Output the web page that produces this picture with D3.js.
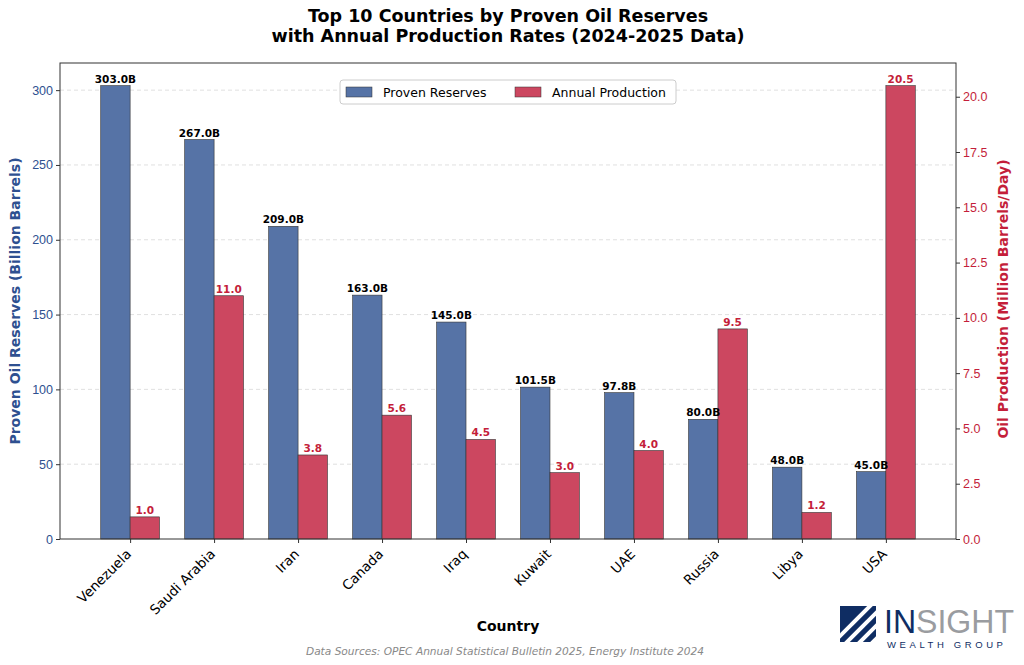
<!DOCTYPE html>
<html>
<head>
<meta charset="utf-8">
<script src="https://cdn.jsdelivr.net/npm/d3@7"></script>
<style>
  body { margin: 0; background: #fff; }
  svg { font-family: "DejaVu Sans", sans-serif; }
</style>
</head>
<body>
<div id="chart"></div>
<script>
const countries = ['Venezuela', 'Saudi Arabia', 'Iran', 'Canada', 'Iraq', 'Kuwait', 'UAE', 'Russia', 'Libya', 'USA']
const reserves = [303.0, 267.0, 209.0, 163.0, 145.0, 101.5, 97.8, 80.0, 48.0, 45.0]
const production = [1.0, 11.0, 3.8, 5.6, 4.5, 3.0, 4.0, 9.5, 1.2, 20.5]
const leftTicks = [0, 50, 100, 150, 200, 250, 300]
const rightTicks = [0, 2.5, 5, 7.5, 10, 12.5, 15, 17.5, 20]

const W = 1024, H = 665
const MARGIN = { TOP: 63, BOTTOM: 126, LEFT: 60, RIGHT: 68 }
const WIDTH = W - MARGIN.LEFT - MARGIN.RIGHT
const HEIGHT = H - MARGIN.TOP - MARGIN.BOTTOM
const BLUE = '#5673a6', RED = '#cc4760'
const BLUE_TXT = '#2e5090', RED_TXT = '#c41e3a'
const BW = 0.35

const svg = d3.select('#chart').append('svg')
  .attr('width', W).attr('height', H)

const g = svg.append('g')
  .attr('transform', `translate(${MARGIN.LEFT}, ${MARGIN.TOP})`)

const x = d3.scaleLinear()
  .domain([-0.35 - 0.485, 9.35 + 0.485])
  .range([0, WIDTH])
const yL = d3.scaleLinear().domain([0, d3.max(reserves) * 1.05]).range([HEIGHT, 0])
const yR = d3.scaleLinear().domain([0, d3.max(production) * 1.05]).range([HEIGHT, 0])

// grid
g.append('g').selectAll('line').data(leftTicks.slice(1)).join('line')
  .attr('x1', 0).attr('x2', WIDTH)
  .attr('y1', d => yL(d)).attr('y2', d => yL(d))
  .attr('stroke', '#d8d8d8').attr('stroke-dasharray', '4,3').attr('stroke-width', 0.8)

// reserves bars
g.append('g').selectAll('rect').data(reserves).join('rect')
  .attr('x', (d, i) => x(i - BW))
  .attr('width', x(BW) - x(0))
  .attr('y', d => yL(d))
  .attr('height', d => HEIGHT - yL(d))
  .attr('fill', BLUE).attr('stroke', '#333').attr('stroke-width', 0.6)

g.append('g').selectAll('rect').data(production).join('rect')
  .attr('x', (d, i) => x(i))
  .attr('width', x(BW) - x(0))
  .attr('y', d => yR(d))
  .attr('height', d => HEIGHT - yR(d))
  .attr('fill', RED).attr('stroke', '#333').attr('stroke-width', 0.6)

// value labels
g.append('g').selectAll('text').data(reserves).join('text')
  .attr('x', (d, i) => x(i - BW / 2))
  .attr('y', d => yL(d) - 3)
  .attr('text-anchor', 'middle')
  .attr('font-size', 10.5).attr('font-weight', 'bold').attr('fill', '#000')
  .text(d => d.toFixed(1) + 'B')

g.append('g').selectAll('text').data(production).join('text')
  .attr('x', (d, i) => x(i + BW / 2))
  .attr('y', d => yR(d) - 3)
  .attr('text-anchor', 'middle')
  .attr('font-size', 10.5).attr('font-weight', 'bold').attr('fill', RED_TXT)
  .text(d => d.toFixed(1))

// axes
g.append('g')
  .attr('transform', `translate(0, ${HEIGHT})`)
  .call(d3.axisBottom(x).tickValues(d3.range(countries.length)).tickFormat('').tickSize(4).tickSizeOuter(0))

// rotated category labels
g.append('g').selectAll('text').data(countries).join('text')
  .attr('transform', (d, i) => `translate(${x(i) + 2}, ${HEIGHT + 16}) rotate(-45)`)
  .attr('text-anchor', 'end')
  .attr('font-size', 13.5).attr('fill', '#000')
  .text(d => d)

const leftAxis = g.append('g')
  .call(d3.axisLeft(yL).tickValues(leftTicks).tickSize(4).tickSizeOuter(0))
leftAxis.selectAll('text').attr('font-size', 12.5).attr('fill', BLUE_TXT)

const rightAxis = g.append('g')
  .attr('transform', `translate(${WIDTH}, 0)`)
  .call(d3.axisRight(yR).tickValues(rightTicks).tickFormat(d3.format('.1f')).tickSize(4).tickSizeOuter(0))
rightAxis.selectAll('text').attr('font-size', 12.5).attr('fill', RED_TXT)

svg.selectAll('.domain').remove()
svg.selectAll('.tick line').attr('stroke', '#333')

// frame
g.append('rect').attr('width', WIDTH).attr('height', HEIGHT)
  .attr('fill', 'none').attr('stroke', '#333').attr('stroke-width', 1)

// axis labels
g.append('text')
  .attr('transform', `translate(-40, ${HEIGHT / 2}) rotate(-90)`)
  .attr('text-anchor', 'middle')
  .attr('font-size', 14).attr('font-weight', 'bold').attr('fill', BLUE_TXT)
  .text('Proven Oil Reserves (Billion Barrels)')

g.append('text')
  .attr('transform', `translate(${WIDTH + 52}, ${HEIGHT / 2 - 2}) rotate(-90)`)
  .attr('text-anchor', 'middle')
  .attr('font-size', 14).attr('font-weight', 'bold').attr('fill', RED_TXT)
  .text('Oil Production (Million Barrels/Day)')

g.append('text')
  .attr('x', WIDTH / 2).attr('y', HEIGHT + 92)
  .attr('text-anchor', 'middle')
  .attr('font-size', 14).attr('font-weight', 'bold')
  .text('Country')

// title
svg.append('text')
  .attr('x', MARGIN.LEFT + WIDTH / 2).attr('y', 22)
  .attr('text-anchor', 'middle')
  .attr('font-size', 17.5).attr('font-weight', 'bold')
  .text('Top 10 Countries by Proven Oil Reserves')
svg.append('text')
  .attr('x', MARGIN.LEFT + WIDTH / 2).attr('y', 42)
  .attr('text-anchor', 'middle')
  .attr('font-size', 17.5).attr('font-weight', 'bold')
  .text('with Annual Production Rates (2024-2025 Data)')

// legend
const legend = g.append('g').attr('transform', `translate(${WIDTH / 2 - 168}, 17)`)
legend.append('rect').attr('width', 336).attr('height', 24).attr('rx', 3)
  .attr('fill', '#fff').attr('stroke', '#ccc')
const items = [['Proven Reserves', BLUE, 6], ['Annual Production', RED, 175]]
items.forEach(([label, col, off]) => {
  legend.append('rect').attr('x', off).attr('y', 7).attr('width', 26).attr('height', 10)
    .attr('fill', col).attr('stroke', '#333').attr('stroke-width', 0.5)
  legend.append('text').attr('x', off + 37).attr('y', 16.5)
    .attr('font-size', 12.5).text(label)
})

// source note
svg.append('text')
  .attr('x', MARGIN.LEFT + WIDTH / 2 - 3).attr('y', 655)
  .attr('text-anchor', 'middle')
  .attr('font-size', 10.6).attr('font-style', 'italic').attr('fill', '#888')
  .text('Data Sources: OPEC Annual Statistical Bulletin 2025, Energy Institute 2024')

// logo
const logo = svg.append('g').attr('transform', 'translate(840, 606)')
logo.append('clipPath').attr('id', 'lclip').append('rect').attr('width', 36).attr('height', 36)
logo.append('rect').attr('width', 36).attr('height', 36).attr('fill', '#0f2d63')
const stripes = logo.append('g').attr('clip-path', 'url(#lclip)')
;[0, 1, 2, 3].forEach(k => {
  stripes.append('line')
    .attr('x1', -10 + k * 13).attr('y1', 40)
    .attr('x2', 34 + k * 13).attr('y2', -4)
    .attr('stroke', '#fff').attr('stroke-width', 4)
})
const brand = logo.append('text').attr('x', 44).attr('y', 27)
  .attr('font-family', 'Liberation Sans, Arial, sans-serif').attr('font-size', 34)
  .attr('textLength', 130).attr('lengthAdjust', 'spacingAndGlyphs')
brand.append('tspan').attr('fill', '#0f2d63').text('IN')
brand.append('tspan').attr('fill', '#9a9ca0').text('SIGHT')
logo.append('text').attr('x', 47).attr('y', 42)
  .attr('font-family', 'Liberation Sans, Arial, sans-serif').attr('font-size', 9.5)
  .attr('fill', '#0f2d63').attr('letter-spacing', 3.6)
  .text('WEALTH GROUP')
</script>
</body>
</html>
